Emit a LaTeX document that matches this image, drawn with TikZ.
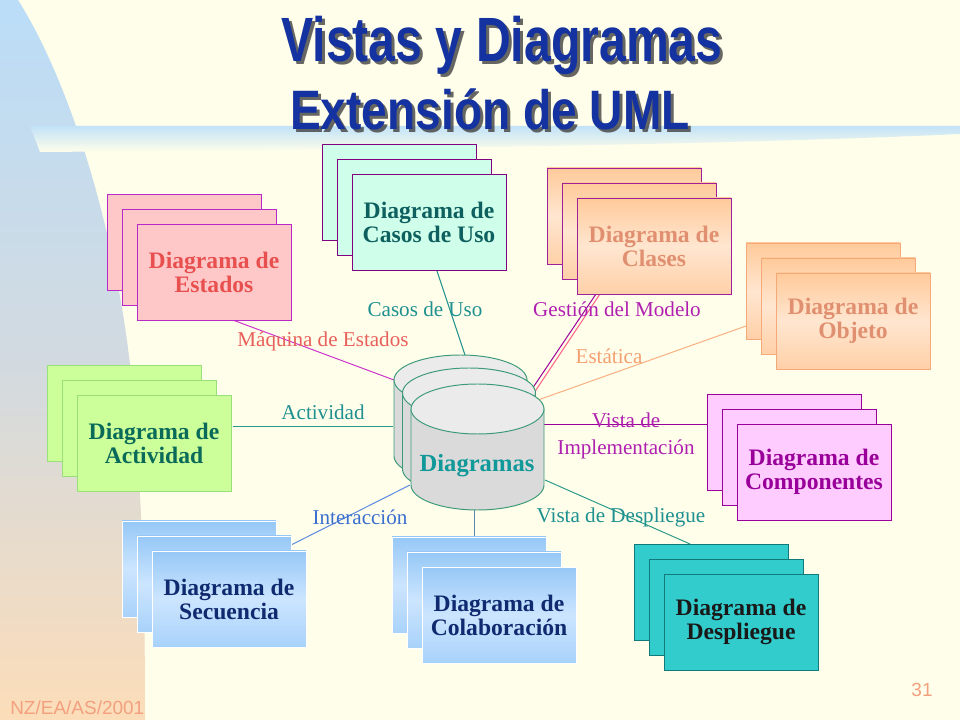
\documentclass[tikz,border=0pt]{standalone}
\usepackage{fontspec}
\setmainfont{Liberation Serif}
\setsansfont{Liberation Sans}
\usetikzlibrary{calc}
\definecolor{bgcream}{HTML}{FFFEEA}
\definecolor{stripblue}{HTML}{BBDDF8}
\definecolor{strippeach}{HTML}{FCDDB9}
\definecolor{stripmid}{HTML}{D2DAE0}
\definecolor{bandblue}{HTML}{C2E2F8}
\definecolor{titleblue}{HTML}{1533A0}
\definecolor{estfill}{HTML}{FFC8C8}
\definecolor{estdraw}{HTML}{B829C8}
\definecolor{esttext}{HTML}{E8504F}
\definecolor{casfill}{HTML}{CFFFEA}
\definecolor{casdraw}{HTML}{800080}
\definecolor{castext}{HTML}{0E6060}
\definecolor{peachA}{HTML}{FFCA9A}
\definecolor{peachB}{HTML}{FFE6D0}
\definecolor{peachC}{HTML}{FFD0A8}
\definecolor{cladraw}{HTML}{A0209A}
\definecolor{objdraw}{HTML}{F5A878}
\definecolor{peachtext}{HTML}{E09070}
\definecolor{actfill}{HTML}{CCFF99}
\definecolor{actdraw}{HTML}{99E07A}
\definecolor{acttext}{HTML}{0A6A5A}
\definecolor{comfill}{HTML}{FFCCFF}
\definecolor{comdraw}{HTML}{990099}
\definecolor{blueA}{HTML}{96C8F6}
\definecolor{blueB}{HTML}{CCE5FF}
\definecolor{blueC}{HTML}{A8D2FA}
\definecolor{navytext}{HTML}{102A70}
\definecolor{desfill}{HTML}{33CCCC}
\definecolor{desdraw}{HTML}{117A7A}
\definecolor{cylbody}{HTML}{DADADA}
\definecolor{cyltopc}{HTML}{EBEBEB}
\definecolor{cyldraw}{HTML}{3C9A78}
\definecolor{cyltext}{HTML}{119999}
\definecolor{lteal}{HTML}{1E9090}
\definecolor{lpurple}{HTML}{B020B0}
\definecolor{lcoral}{HTML}{E8605A}
\definecolor{lorange}{HTML}{F5A070}
\definecolor{lblue}{HTML}{3A6FD0}
\definecolor{lnmag}{HTML}{CC33CC}
\definecolor{lnpink}{HTML}{FF6688}
\definecolor{lnorange}{HTML}{F8B080}
\definecolor{lnblue}{HTML}{5A8AE0}
\definecolor{lncol}{HTML}{5A88B0}
\definecolor{lnteal}{HTML}{2A9A8A}
\definecolor{foottext}{HTML}{F2A07E}
\tikzset{
  boxbase/.style={minimum width=3.85cm, minimum height=2.4cm, inner sep=0pt, outer sep=0pt,
    line width=0.7pt, align=center, font=\bfseries\fontsize{16.8}{17}\selectfont},
  estbox/.style={boxbase, fill=estfill, draw=estdraw},
  casbox/.style={boxbase, fill=casfill, draw=casdraw},
  clabox/.style={boxbase, draw=cladraw, top color=peachA, bottom color=peachC, middle color=peachB},
  objbox/.style={boxbase, draw=objdraw, top color=peachA, bottom color=peachC, middle color=peachB},
  actbox/.style={boxbase, fill=actfill, draw=actdraw},
  combox/.style={boxbase, fill=comfill, draw=comdraw},
  bluebox/.style={boxbase, draw=white, top color=blueA, bottom color=blueC, middle color=blueB},
  desbox/.style={boxbase, fill=desfill, draw=desdraw},
  lbl/.style={font=\fontsize{15}{16}\selectfont, inner sep=0pt},
  conn/.style={line width=0.7pt},
  cylside/.style={fill=cylbody, draw=cyldraw, line width=0.7pt},
  cyltop/.style={fill=cyltopc, draw=cyldraw, line width=0.7pt},
  ttl/.style={font=\sffamily\bfseries, inner sep=0pt, anchor=base}
}
\newcommand\dstack[6]{%
  \node[#4, anchor=north west] (#1a) at (#2,#3) {};
  \node[#4, anchor=north west] (#1b) at ($(#2,#3)+(15,15)$) {};
  \node[#4, anchor=north west, text=#5] (#1) at ($(#2,#3)+(30,30)$) {#6};
}
\newcommand\dcyl[2]{%
  \filldraw[cylside] (#1-66.5,#2) -- (#1-66.5,#2+76)
     arc[start angle=180, end angle=0, x radius=66.5, y radius=25] -- (#1+66.5,#2) -- cycle;
  \filldraw[cyltop] (#1,#2) ellipse [x radius=66.5, y radius=25];
}
\begin{document}
\begin{tikzpicture}[x=0.025cm, y=-0.025cm]
\useasboundingbox (0,0) rectangle (960,720);
% background
\fill[bgcream] (0,0) rectangle (960,720);
\shade[top color=stripblue, bottom color=strippeach, middle color=stripmid]
  (0,0) -- (18,0) .. controls (75,90) and (125,260) .. (135,420)
  .. controls (140,500) and (145,540) .. (145,720) -- (0,720) -- cycle;
\shade[top color=bandblue, bottom color=bgcream]
  (30,126) -- (960,126) -- (960,134) .. controls (700,146) and (300,150) .. (40,152) -- cycle;
% title
\node[ttl, text=black!75, opacity=0.8] (t1s) at (505,65)
  {\scalebox{0.77}[1]{\fontsize{44.5}{50}\selectfont Vistas y Diagramas}};
\node[ttl, text=titleblue] (t1) at (502,62)
  {\scalebox{0.77}[1]{\fontsize{44.5}{50}\selectfont Vistas y Diagramas}};
\node[ttl, text=black!75, opacity=0.8] (t2s) at (493,133)
  {\scalebox{0.83}[1]{\fontsize{39.5}{45}\selectfont Extensión de UML}};
\node[ttl, text=titleblue] (t2) at (490,130)
  {\scalebox{0.83}[1]{\fontsize{39.5}{45}\selectfont Extensión de UML}};
% connector end points
\coordinate (casA) at (436,268); \coordinate (casB) at (465,355);
\coordinate (estA) at (230,319); \coordinate (estB) at (394,380);
\coordinate (claA) at (596,294); \coordinate (claB) at (528,395);
\coordinate (claA2) at (600,294); \coordinate (claB2) at (532,396);
\coordinate (objA) at (538,400); \coordinate (objB) at (746,326);
\coordinate (impA) at (540,424); \coordinate (impB) at (707,424);
\coordinate (actA) at (233,426); \coordinate (actB) at (393,426);
\coordinate (secA) at (291,545); \coordinate (secB) at (410,485);
\coordinate (colA) at (474,510); \coordinate (colB) at (474,537);
\coordinate (desA) at (545,480); \coordinate (desB) at (690,544);
% connectors
\draw[conn, draw=lteal] (casA) -- (casB);
\draw[conn, draw=lnmag] (estA) -- (estB);
\draw[conn, draw=lnpink] (claA2) -- (claB2);
\draw[conn, draw=comdraw] (claA) -- (claB);
\draw[conn, draw=lnorange] (objA) -- (objB);
\draw[conn, draw=comdraw] (impA) -- (impB);
\draw[conn, draw=lnteal] (actA) -- (actB);
\draw[conn, draw=lnblue] (secA) -- (secB);
\draw[conn, draw=lncol] (colA) -- (colB);
\draw[conn, draw=lnteal] (desA) -- (desB);
% stacks
\dstack{est}{107}{194}{estbox}{esttext}{Diagrama de\\Estados}
\dstack{cas}{322}{144}{casbox}{castext}{Diagrama de\\Casos de Uso}
\dstack{cla}{547}{168}{clabox}{peachtext}{Diagrama de\\Clases}
\dstack{obj}{746}{243}{objbox}{peachtext}{Diagrama de\\Objeto}
\dstack{act}{47}{365}{actbox}{acttext}{Diagrama de\\Actividad}
\dstack{com}{707}{394}{combox}{comdraw}{Diagrama de\\Componentes}
\dstack{sec}{122}{521}{bluebox}{navytext}{Diagrama de\\Secuencia}
\dstack{col}{392}{537}{bluebox}{navytext}{Diagrama de\\Colaboración}
\dstack{des}{634}{544}{desbox}{black!90}{Diagrama de\\Despliegue}
% cylinders
\dcyl{460.5}{380}
\dcyl{469}{393}
\dcyl{477.5}{409}
\node[font=\bfseries\fontsize{17.5}{18}\selectfont, text=cyltext, inner sep=0pt] (dia) at (477,466) {Diagramas};
% labels
\node[lbl, text=lteal] (l1) at (425,309) {Casos de Uso};
\node[lbl, text=lpurple] (l2) at (617,309) {Gestión del Modelo};
\node[lbl, text=lcoral] (l3) at (323,341) {Máquina de Estados};
\node[lbl, text=lorange] (l4) at (609,356) {Estática};
\node[lbl, text=lteal] (l5) at (323,412) {Actividad};
\node[lbl, text=lpurple] (l6) at (626,420) {Vista de};
\node[lbl, text=lpurple] (l7) at (626,449) {Implementación};
\node[lbl, text=lblue] (l8) at (360,517) {Interacción};
\node[lbl, text=lteal] (l9) at (621,517) {Vista de Despliegue};
% footer
\node[font=\sffamily\fontsize{13.5}{15}\selectfont, text=foottext, anchor=base west, inner sep=0pt] (foot) at (10,714) {NZ/EA/AS/2001};
\node[font=\sffamily\fontsize{13.5}{15}\selectfont, text=foottext, anchor=base, inner sep=0pt] (pg) at (922,696) {31};
\end{tikzpicture}
\end{document}
